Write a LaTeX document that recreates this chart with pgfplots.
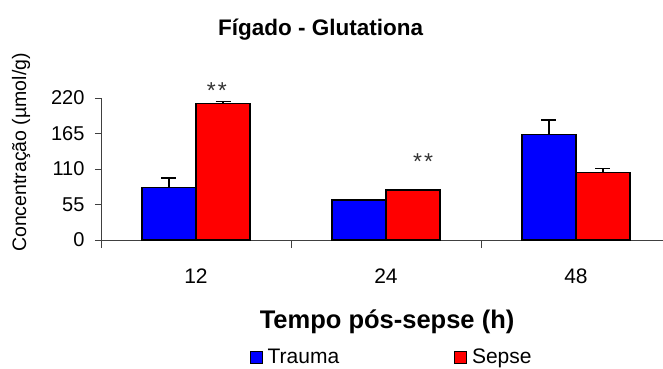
\documentclass[border=0pt]{standalone}
\usepackage{fontspec}
\setmainfont{Liberation Sans}
\usepackage{pgfplots}
\pgfplotsset{compat=1.18}
\definecolor{tblue}{RGB}{0,0,255}
\definecolor{sred}{RGB}{255,0,0}
\begin{document}
\begin{tikzpicture}
\begin{axis}[
  at={(101pt,128pt)}, anchor=south west,
  scale only axis, width=562pt, height=142pt,
  xmin=-0.5, xmax=2.458, ymin=0, ymax=220,
  clip=false,
  ybar, bar width=54pt,
  axis x line*=bottom, axis y line*=left,
  axis line style={black!75, line width=0.8pt},
  xtick={0,1,2}, xticklabels={12,24,48},
  minor xtick={-0.5,0.5,1.5},
  ytick={0,55,110,165,220},
  tick align=outside,
  major tick length=6pt, minor tick length=8pt,
  x tick style={draw=none},
  minor x tick style={draw=black!75, line width=0.8pt},
  y tick style={black!75, line width=0.8pt},
  /pgf/number format/assume math mode=true,
  yticklabel style={font=\fontsize{20}{22}\selectfont, xshift=-7pt},
  xticklabel style={font=\fontsize{21}{24}\selectfont, yshift=-19pt},
  every axis title shift=0pt,
  title={Fígado - Glutationa},
  title style={at={(axis description cs:0.3906,1.479)}, anchor=center, font=\bfseries\fontsize{22.5}{25}\selectfont},
  xlabel={Tempo pós-sepse (h)},
  xlabel style={at={(axis description cs:0.509,-0.577)}, anchor=center, font=\bfseries\fontsize{25.5}{28}\selectfont},
  ylabel={Concentração (µmol/g)},
  ylabel style={at={(axis description cs:-0.1423,0.616)}, anchor=center, rotate=0, font=\fontsize{19.5}{22}\selectfont},
  legend style={at={(axis description cs:0.52,-0.824)}, anchor=center, draw=none, fill=none,
    legend columns=2, font=\fontsize{21}{23}\selectfont,
    nodes={inner xsep=5pt},
    /tikz/every even column/.append style={column sep=110pt}},
  legend image code/.code={\draw[#1, draw=black, line width=0.8pt] (0pt,-6pt) rectangle (12pt,6pt);},
  error bars/y dir=plus, error bars/y explicit,
  error bars/error mark options={rotate=90, mark size=7.5pt, line width=1.2pt, black},
  error bars/error bar style={line width=1.2pt, black},
]
\addplot[bar shift=-27pt, fill=tblue, draw=black, line width=1.3pt]
  coordinates {(0,81) +- (0,15) (1,62) +- (0,1) (2,164) +- (0,22)};
\addlegendentry{Trauma}
\addplot[bar shift=27pt, fill=sred, draw=black, line width=1.3pt]
  coordinates {(0,211) +- (0,3) (1,77.5) +- (0,1) (2,105) +- (0,6)};
\addlegendentry{Sepse}
\node[font=\fontsize{23}{25}\selectfont, text=black!80] at (axis cs:0.11,231) {*\hspace{2pt}*};
\node[font=\fontsize{23}{25}\selectfont, text=black!80] at (axis cs:1.195,121) {*\hspace{2pt}*};
\end{axis}
\pgfresetboundingbox
\path[use as bounding box] (0,0) rectangle (663pt,368pt);
\end{tikzpicture}
\end{document}
